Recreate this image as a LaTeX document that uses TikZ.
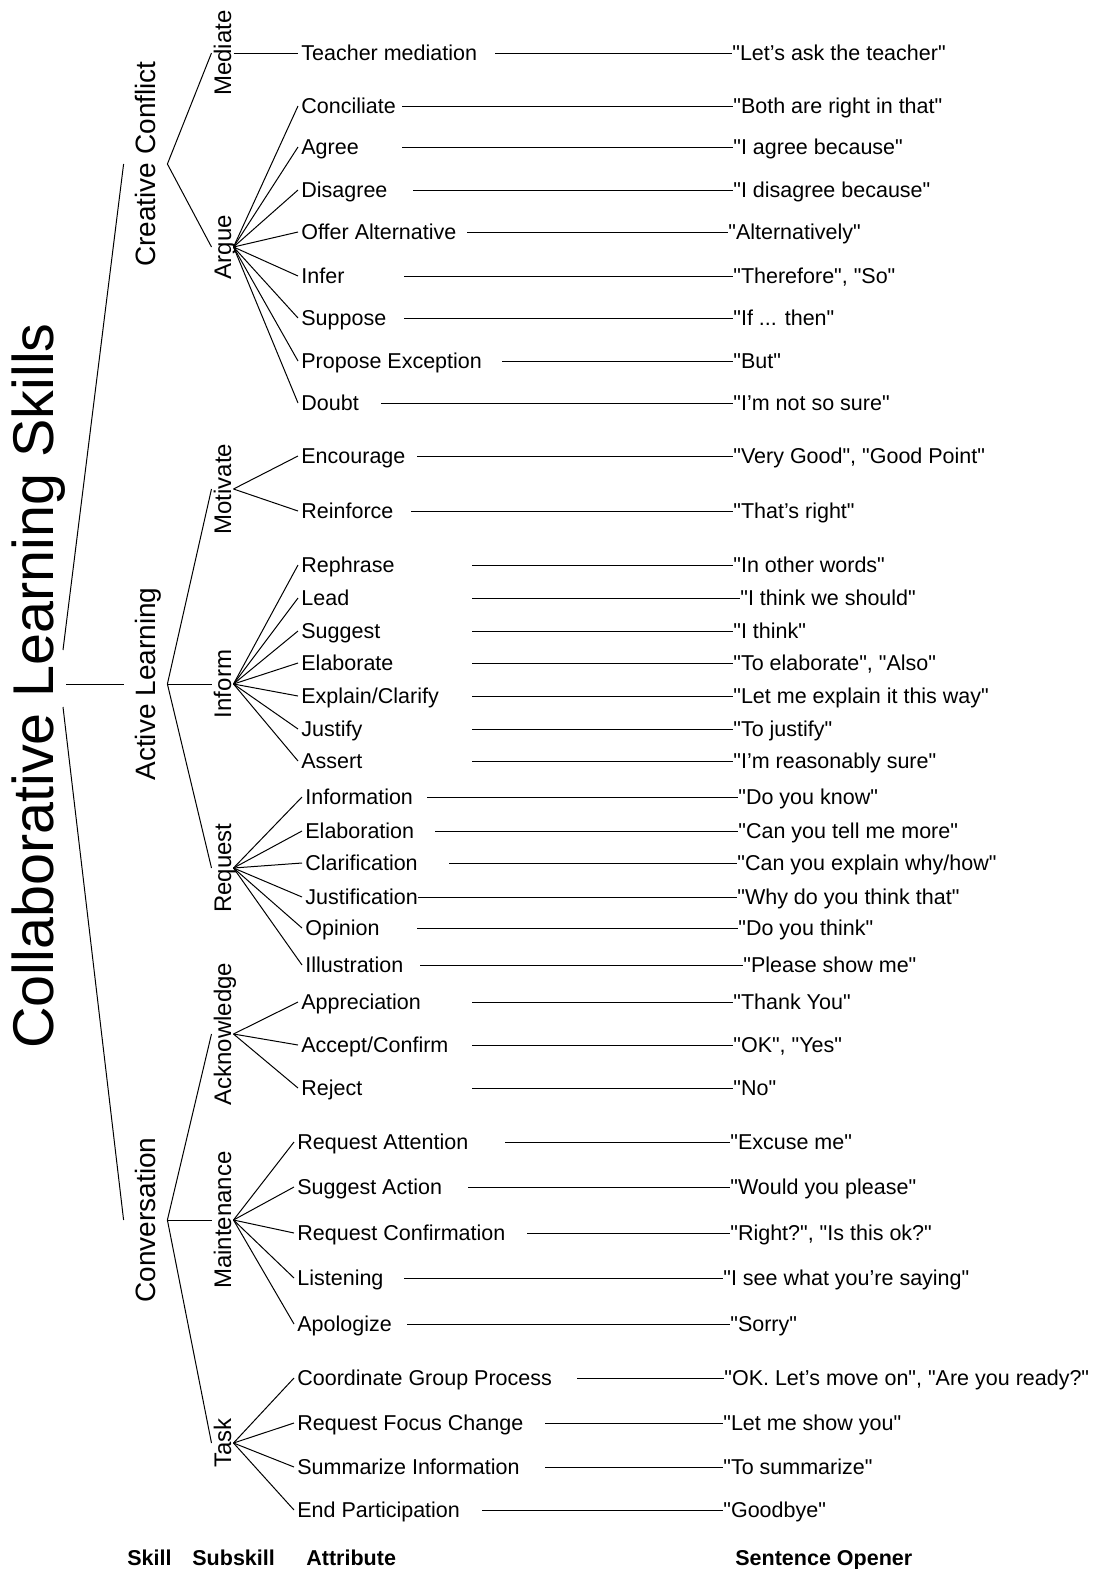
\documentclass[tikz,border=0pt]{standalone}
\usepackage{fontspec}
\setmainfont{Liberation Sans}[Ligatures=TeXOff]
\begin{document}
\begin{tikzpicture}[x=0.5pt, y=-0.5pt,
  captext/.style={inner sep=0pt, text depth=0pt},
  rootnode/.style={captext, rotate=90, text height=20.6pt, inner ysep=6pt, font=\fontsize{28.75}{30}\selectfont},
  skill/.style={captext, rotate=90, text height=10pt, inner ysep=5.75pt, font=\fontsize{14}{16}\selectfont},
  subskill/.style={captext, rotate=90, text height=8.6pt, inner ysep=1pt, font=\fontsize{12}{14}\selectfont},
  attr/.style={captext, anchor=west, text height=7.7pt, inner xsep=1.5pt, font=\fontsize{10.75}{12}\selectfont},
  opener/.style={captext, anchor=west, text height=7.7pt, font=\fontsize{10.75}{12}\selectfont},
  heading/.style={captext, anchor=west, text height=7.7pt, font=\fontsize{10.75}{12}\selectfont\bfseries},
  link/.style={line width=0.5pt}]
\useasboundingbox (0,0) rectangle (1106,1569);
\node[rootnode] (root) at (33,686) {Collaborative Learning Skills};
\node[skill] (cc) at (145.5,164) {Creative Conflict};
\node[skill] (al) at (145.5,684) {Active Learning};
\node[skill] (cv) at (145.5,1220) {Conversation};
\draw[link] ([shift={(-3,-36)}]root.south) -- (cc.north);
\draw[link] ([shift={(0,-2)}]root.south) -- (al.north);
\draw[link] ([shift={(-3,21)}]root.south) -- (cv.north);
\node[subskill] (med) at (222.5,53) {Mediate};
\node[subskill] (arg) at (222.5,247) {Argue};
\node[subskill] (mot) at (222.5,489) {Motivate};
\node[subskill] (inf) at (222.5,684) {Inform};
\node[subskill] (req) at (222.5,868) {Request};
\node[subskill] (ack) at (222.5,1034) {Acknowledge};
\node[subskill] (mnt) at (222.5,1220) {Maintenance};
\node[subskill] (task) at (222.5,1443) {Task};
\foreach \s in {med,arg}
  \draw[link] (cc.south) -- (\s.north);
\foreach \s in {mot,inf,req}
  \draw[link] (al.south) -- (\s.north);
\foreach \s in {ack,mnt,task}
  \draw[link] (cv.south) -- (\s.north);
\foreach \g/\xa/\y/\at/\xs/\xo/\op [count=\i] in {
  med/298/53/Teacher mediation/495/732/{"Let’s ask the teacher"},
  arg/298/106/Conciliate/402/733/{"Both are right in that"},
  arg/298/147/Agree/402/733/{"I agree because"},
  arg/298/190/Disagree/413/733/{"I disagree because"},
  arg/298/232/Offer Alternative/467/728/{"Alternatively"},
  arg/298/276/Infer/404/733/{"Therefore", "So"},
  arg/298/318/Suppose/404/733/{"If ... then"},
  arg/298/361/Propose Exception/502/733/{"But"},
  arg/298/403/Doubt/381/733/{"I’m not so sure"},
  mot/298/456/Encourage/417/733/{"Very Good", "Good Point"},
  mot/298/511/Reinforce/411/733/{"That’s right"},
  inf/298/565/Rephrase/472/733/{"In other words"},
  inf/298/598/Lead/472/740/{"I think we should"},
  inf/298/631/Suggest/472/733/{"I think"},
  inf/298/663/Elaborate/472/733/{"To elaborate", "Also"},
  inf/298/696/{Explain/Clarify}/472/733/{"Let me explain it this way"},
  inf/298/729/Justify/472/733/{"To justify"},
  inf/298/761/Assert/472/733/{"I’m reasonably sure"},
  req/302/797/Information/427/738/{"Do you know"},
  req/302/831/Elaboration/435/738/{"Can you tell me more"},
  req/302/863/Clarification/449/737/{"Can you explain why/how"},
  req/302/897/Justification/418/737/{"Why do you think that"},
  req/302/928/Opinion/417/738/{"Do you think"},
  req/302/965/Illustration/420/743/{"Please show me"},
  ack/298/1002/Appreciation/472/733/{"Thank You"},
  ack/298/1045/{Accept/Confirm}/472/733/{"OK", "Yes"},
  ack/298/1088/Reject/472/733/{"No"},
  mnt/294/1142/Request Attention/505/730/{"Excuse me"},
  mnt/294/1187/Suggest Action/468/730/{"Would you please"},
  mnt/294/1233/Request Confirmation/527/730/{"Right?", "Is this ok?"},
  mnt/294/1278/Listening/404/723/{"I see what you’re saying"},
  mnt/294/1324/Apologize/407/730/{"Sorry"},
  task/294/1378/Coordinate Group Process/577/724/{"OK. Let’s move on", "Are you ready?"},
  task/294/1423/Request Focus Change/545/723/{"Let me show you"},
  task/294/1467/Summarize Information/545/723/{"To summarize"},
  task/294/1510/End Participation/482/723/{"Goodbye"}}
{
  \node[attr] (a\i) at (\xa,\y) {\at};
  \node[opener] (o\i) at (\xo,\y) {\op};
  \coordinate (s\i) at (\xs,\y);
  \draw[link] (\g.south) -- (a\i.west);
  \draw[link] (s\i) -- (o\i.west);
}
\node[heading] (hskill) at (127,1558) {Skill};
\node[heading] (hsub) at (192,1558) {Subskill};
\node[heading] (hattr) at (306,1558) {Attribute};
\node[heading] (hopen) at (735,1558) {Sentence Opener};
\end{tikzpicture}
\end{document}
